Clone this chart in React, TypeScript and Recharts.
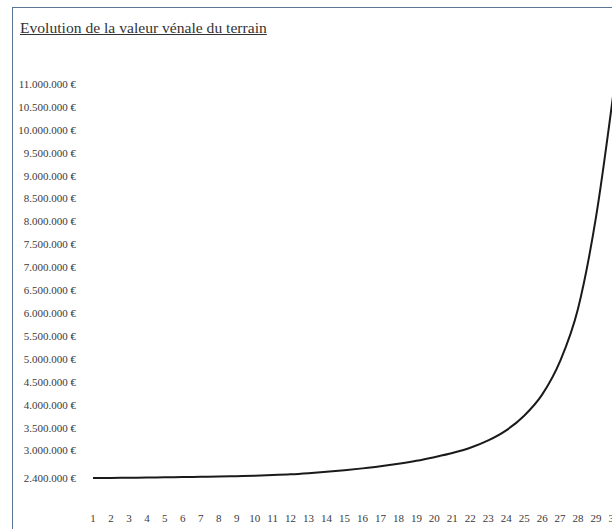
import { LineChart, Line, XAxis, YAxis } from "recharts";

const years = [1, 2, 3, 4, 5, 6, 7, 8, 9, 10, 11, 12, 13, 14, 15, 16, 17, 18, 19, 20, 21, 22, 23, 24, 25, 26, 27, 28, 29, 30];
const values = [
  2400000, 2402000, 2405000, 2410000, 2415000, 2420000, 2425000, 2432000, 2440000, 2450000,
  2463000, 2480000, 2505000, 2535000, 2570000, 2610000, 2655000, 2710000, 2775000, 2855000,
  2945000, 3060000, 3220000, 3440000, 3760000, 4220000, 4950000, 6100000, 8100000, 10900000,
];
const yTicks = [
  2400000, 3000000, 3500000, 4000000, 4500000, 5000000, 5500000, 6000000, 6500000, 7000000,
  7500000, 8000000, 8500000, 9000000, 9500000, 10000000, 10500000, 11000000,
];

const data = years.map((year, i) => ({ year, value: values[i] }));

const fmt = (v: number) => v.toLocaleString("de-DE") + " €";

const tickStyle = { fill: "#3a3a3a", fontSize: 11, fontFamily: "Liberation Serif" };

export default function App() {
  return (
    <div style={{ position: "absolute", left: 0, top: 0, width: 612, height: 529, overflow: "hidden", background: "#fff" }}>
      <div
        style={{
          position: "absolute",
          left: 12,
          top: 7,
          width: 700,
          height: 600,
          borderLeft: "1.5px solid #5a7694",
          borderTop: "1.5px solid #5a7694",
        }}
      />
      <div
        style={{
          position: "absolute",
          left: 20,
          top: 19,
          fontFamily: "Liberation Serif",
          fontSize: 15.6,
          color: "#333",
          textDecoration: "underline",
          whiteSpace: "nowrap",
        }}
      >
        Evolution de la valeur vénale du terrain
      </div>
      <div style={{ position: "absolute", left: 0, top: 0 }}>
        <LineChart width={660} height={529} data={data} margin={{ top: 84, right: 46, bottom: 0, left: 0 }}>
          <XAxis
            dataKey="year"
            type="number"
            domain={[1, 30]}
            ticks={years}
            interval={0}
            axisLine={false}
            tickLine={false}
            tickMargin={30}
            height={51}
            tick={tickStyle}
          />
          <YAxis
            type="number"
            domain={[2400000, 11000000]}
            ticks={yTicks}
            interval={0}
            axisLine={false}
            tickLine={false}
            tickMargin={11}
            width={93}
            tickFormatter={fmt}
            tick={tickStyle}
          />
          <Line
            type="monotone"
            dataKey="value"
            stroke="#1a1a1a"
            strokeWidth={2}
            dot={false}
            isAnimationActive={false}
          />
        </LineChart>
      </div>
    </div>
  );
}
